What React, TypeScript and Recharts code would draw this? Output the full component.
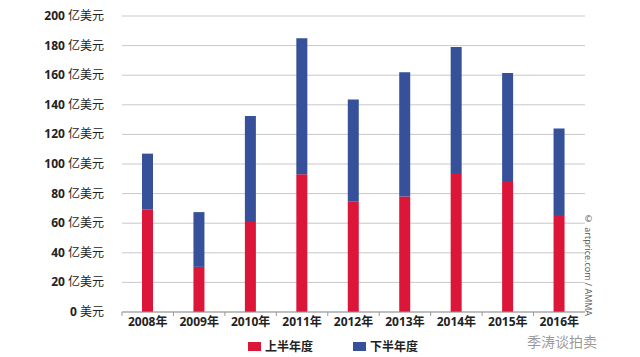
import { BarChart, Bar, XAxis, YAxis, CartesianGrid } from "recharts";

const years = ["2008年", "2009年", "2010年", "2011年", "2012年", "2013年", "2014年", "2015年", "2016年"];
const firstHalf = [69.5, 30.5, 61.5, 93, 74.5, 78, 94, 88.5, 65.5];
const secondHalf = [37.5, 37, 71, 92, 69, 84, 85, 73, 58.5];
const yTicks = [0, 20, 40, 60, 80, 100, 120, 140, 160, 180, 200];

const seriesNames = ["上半年度", "下半年度"];
const RED = "#dc1639";
const BLUE = "#36519a";
const FONT = "'Open Sans', 'Noto Sans CJK SC', sans-serif";

const data = years.map((year, i) => ({
  year,
  first: firstHalf[i],
  second: secondHalf[i],
}));

const W = 640;
const H = 357;
const PLOT_LEFT = 122;
const PLOT_RIGHT = 585;
const BAND = (PLOT_RIGHT - PLOT_LEFT) / years.length;

function YTick({ y, payload }: { x?: number; y?: number; payload?: { value: number } }) {
  const v = payload?.value ?? 0;
  return (
    <text x={104} y={y} dy={4} textAnchor="end" fontSize={12} fill="#222" fontFamily={FONT}>
      <tspan fontWeight={700}>{v}</tspan>
      <tspan> {v === 0 ? "美元" : "亿美元"}</tspan>
    </text>
  );
}

function XTick({ x, y, payload }: { x?: number; y?: number; payload?: { value: string } }) {
  const cx = x ?? 0;
  const top = 312;
  return (
    <g>
      <line x1={cx - BAND / 2} x2={cx - BAND / 2} y1={top} y2={top + 4} stroke="#999" />
      <text x={cx} y={(y ?? 0) + 6} textAnchor="middle" fontSize={12} fontWeight={700} fill="#222" fontFamily={FONT}>
        {payload?.value}
      </text>
    </g>
  );
}

export default function App() {
  return (
    <div style={{ position: "absolute", left: 0, top: 0, width: W, height: H, background: "#fff", fontFamily: FONT }}>
      <BarChart
        width={W}
        height={H}
        data={data}
        margin={{ top: 16, right: W - PLOT_RIGHT, bottom: 15, left: 10 }}
      >
        <CartesianGrid vertical={false} stroke="#c9c9c9" />
        <XAxis
          dataKey="year"
          interval={0}
          height={30}
          tickLine={false}
          axisLine={{ stroke: "#999" }}
          tick={<XTick />}
        />
        <YAxis
          domain={[0, 200]}
          ticks={yTicks}
          width={PLOT_LEFT - 10}
          axisLine={false}
          tickLine={false}
          tick={<YTick />}
        />
        <Bar dataKey="first" name={seriesNames[0]} stackId="a" fill={RED} barSize={11} isAnimationActive={false} />
        <Bar dataKey="second" name={seriesNames[1]} stackId="a" fill={BLUE} barSize={11} isAnimationActive={false} />
      </BarChart>

      {/* legend */}
      <div style={{ position: "absolute", top: 337, left: 248, display: "flex", alignItems: "center", fontSize: 12, fontWeight: 700, color: "#222" }}>
        <span style={{ width: 13, height: 9, background: RED, display: "inline-block", marginRight: 4 }} />
        <span style={{ marginRight: 40 }}>{seriesNames[0]}</span>
        <span style={{ width: 13, height: 9, background: BLUE, display: "inline-block", marginRight: 4 }} />
        <span>{seriesNames[1]}</span>
      </div>

      {/* vertical credit */}
      <div
        style={{
          position: "absolute",
          left: 582,
          top: 212,
          fontSize: 9,
          color: "#555",
          writingMode: "vertical-rl",
          whiteSpace: "nowrap",
        }}
      >
        © artprice.com / AMMA
      </div>

      {/* account watermark */}
      <div style={{ position: "absolute", left: 527, top: 331, fontSize: 14, color: "rgba(120,120,120,0.75)" }}>
        季涛谈拍卖
      </div>
    </div>
  );
}
